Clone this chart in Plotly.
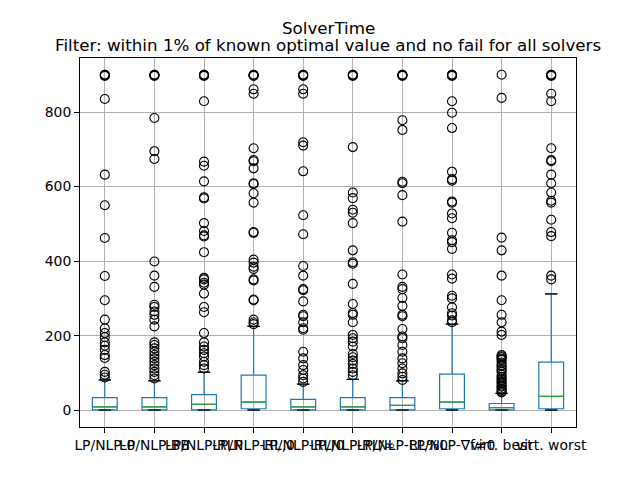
import plotly.graph_objects as go

title_main = "SolverTime"
title_sub = "Filter: within 1% of known optimal value and no fail for all solvers"

labels = ["LP/NLP-0", "LP/NLP-BB", "LP/NLP-RLP", "LP/NLP-RL,0", "LP/NLP-RL/0",
          "LP/NLP-RL/∞", "LP/NLP-RL%0", "LP/NLP-∇f≠0", "virt. best", "virt. worst"]

q1 = [1, 1, 1, 4, 1, 1, 1, 4, 1, 4]
median = [9, 9, 16, 22, 9, 9, 13, 22, 7, 37]
q3 = [34, 34, 42, 94, 29, 34, 34, 97, 18, 129]
lower = [0.5, 0.5, 0.5, 0.5, 0.5, 0.5, 0.5, 0.5, 0.5, 0.5]
upper = [81, 79, 102, 225, 70, 83, 79, 231, 45, 312]

outliers = [
    [897, 899, 900, 900, 835, 632, 550, 462, 360, 295, 243, 220, 207, 196, 182, 173, 162, 148, 140, 103, 95, 88],
    [897, 899, 900, 900, 784, 695, 674, 399, 361, 331, 283, 277, 265, 256, 243, 225, 182, 175, 166, 157, 148,
     139, 130, 121, 112, 103, 94, 85],
    [897, 899, 900, 900, 829, 667, 656, 614, 571, 568, 502, 481, 469, 466, 424, 355, 351, 342, 337, 313, 277,
     263, 207, 182, 171, 162, 153, 144, 130, 121, 112],
    [897, 899, 900, 900, 861, 849, 703, 671, 668, 649, 609, 607, 582, 557, 478, 476, 404, 396, 385, 379, 351,
     348, 297, 295, 243, 236, 231],
    [897, 899, 900, 900, 861, 849, 719, 710, 641, 523, 472, 387, 361, 325, 322, 292, 256, 252, 236, 220, 216,
     157, 139, 121, 108, 94, 85, 76],
    [897, 899, 900, 900, 706, 584, 569, 538, 530, 502, 429, 397, 393, 339, 285, 261, 256, 236, 202, 193, 184,
     171, 151, 142, 133, 124, 112, 103, 94],
    [897, 899, 900, 900, 778, 752, 613, 609, 577, 506, 364, 331, 325, 301, 280, 256, 252, 218, 198, 193, 175,
     157, 139, 126, 112, 99, 90, 81],
    [897, 899, 900, 900, 829, 798, 757, 640, 620, 616, 560, 557, 528, 515, 476, 456, 451, 433, 364, 353, 307,
     300, 276, 260, 254, 241, 236],
    [900, 838, 463, 429, 361, 295, 256, 236, 211, 202, 148, 145, 142, 138, 135, 128, 121, 118, 112, 108, 103,
     95, 90, 85, 81, 76, 72, 66, 63, 58, 54, 50, 48],
    [897, 899, 900, 900, 849, 829, 703, 671, 668, 632, 609, 584, 562, 557, 511, 478, 467, 361, 351],
]

positions = list(range(1, len(labels) + 1))
half_box = 0.25
half_cap = 0.125

fig = go.Figure()

fig.add_trace(go.Box(
    x=positions, q1=q1, median=median, q3=q3,
    lowerfence=lower, upperfence=upper,
    width=0.5, whiskerwidth=0.5, boxpoints=False,
    fillcolor="rgba(0,0,0,0)",
    line=dict(color="#1f77b4", width=1.2),
    showlegend=False, hoverinfo="skip",
))

# medians (green)
mx, my = [], []
for p, m in zip(positions, median):
    mx += [p - half_box, p + half_box, None]
    my += [m, m, None]
fig.add_trace(go.Scatter(x=mx, y=my, mode="lines", line=dict(color="#2ca02c", width=1.2),
                         showlegend=False, hoverinfo="skip"))

# caps (black)
cx, cy = [], []
for p, lo, hi in zip(positions, lower, upper):
    cx += [p - half_cap, p + half_cap, None, p - half_cap, p + half_cap, None]
    cy += [lo, lo, None, hi, hi, None]
fig.add_trace(go.Scatter(x=cx, y=cy, mode="lines", line=dict(color="black", width=1.2),
                         showlegend=False, hoverinfo="skip"))

# outliers
ox, oy = [], []
for p, vals in zip(positions, outliers):
    ox += [p] * len(vals)
    oy += vals
fig.add_trace(go.Scatter(x=ox, y=oy, mode="markers",
                         marker=dict(symbol="circle-open", size=9, color="black", line=dict(width=1.1)),
                         showlegend=False, hoverinfo="skip"))

axis_common = dict(
    showline=True, linecolor="black", linewidth=1, mirror=True,
    showgrid=True, gridcolor="#b0b0b0", gridwidth=0.8,
    ticks="outside", ticklen=5, tickcolor="black", tickwidth=1,
    zeroline=False, tickfont=dict(family="DejaVu Sans", size=13.9, color="black"),
    automargin=False,
)

title_font = dict(family="DejaVu Sans", size=16.7, color="black")

# the page adds an 8px offset, so margins are shifted to compensate
fig.update_layout(
    width=640, height=480,
    margin=dict(l=72, r=72, t=50, b=61, autoexpand=False),
    plot_bgcolor="white", paper_bgcolor="white",
    font=dict(family="DejaVu Sans", color="black"),
    annotations=[
        dict(text=title_main, xref="paper", yref="paper", x=0.5, y=1,
             xanchor="center", yanchor="middle", yshift=30, showarrow=False, font=title_font),
        dict(text=title_sub, xref="paper", yref="paper", x=0.5, y=1,
             xanchor="center", yanchor="middle", yshift=13, showarrow=False, font=title_font),
    ],
    xaxis=dict(range=[0.5, 10.5], tickmode="array", tickvals=positions, ticktext=labels,
               tickangle=0, **axis_common),
    yaxis=dict(range=[-45, 945], tickmode="array", tickvals=[0, 200, 400, 600, 800], **axis_common),
)

fig.write_html("out.html")
